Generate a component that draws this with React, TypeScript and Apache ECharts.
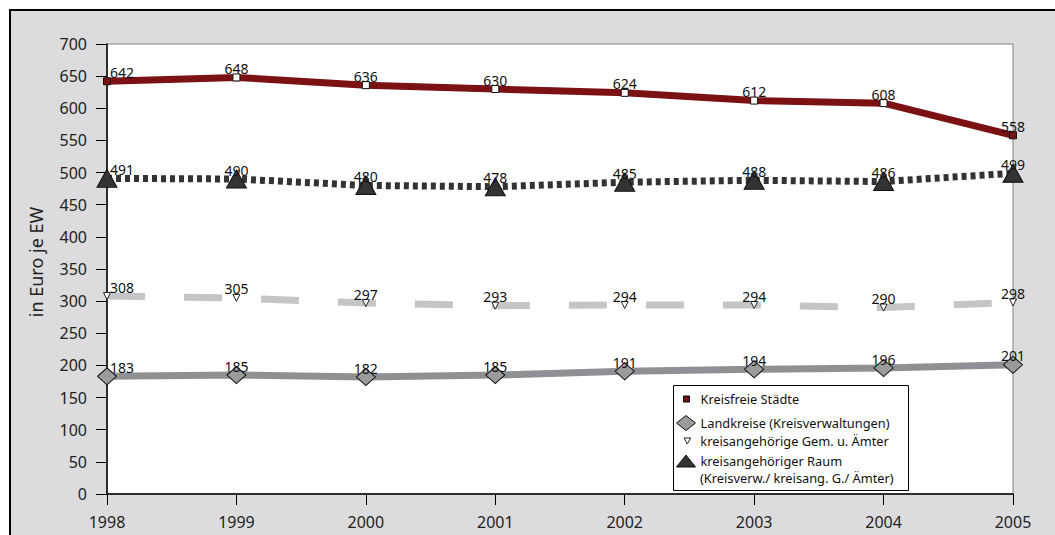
import React, { useEffect, useRef } from "react";
import * as echarts from "echarts";

const years = ["1998", "1999", "2000", "2001", "2002", "2003", "2004", "2005"];
const kreisfreieStaedte = [642, 648, 636, 630, 624, 612, 608, 558];
const landkreise = [183, 185, 182, 185, 191, 194, 196, 201];
const gemAemter = [308, 305, 297, 293, 294, 294, 290, 298];
const kreisRaum = [491, 490, 480, 478, 485, 488, 486, 499];

const NAME_KS = "Kreisfreie Städte";
const NAME_LK = "Landkreise (Kreisverwaltungen)";
const NAME_GA = "kreisangehörige Gem. u. Ämter";
const NAME_KR = "kreisangehöriger Raum\n(Kreisverw./ kreisang. G./ Ämter)";

const FONT = "'Noto Sans', sans-serif";

function toData(vals: number[], fill?: (i: number) => string | undefined) {
  return vals.map((v, i) => {
    const d: any = { value: v };
    if (i === 0) d.label = { offset: [15, -9] };
    const c = fill ? fill(i) : undefined;
    if (c) d.itemStyle = { color: c };
    return d;
  });
}

const labelCfg = {
  show: true,
  position: "inside" as const,
  offset: [0, -9],
  color: "#111",
  fontSize: 14,
  fontFamily: FONT,
};

export default function App() {
  const ref = useRef<HTMLDivElement>(null);
  useEffect(() => {
    if (!ref.current) return;
    const chart = echarts.init(ref.current, null, { renderer: "svg" });
    const legendText = { color: "#111", fontSize: 12.8, fontFamily: FONT, lineHeight: 14 };
    const krLines = NAME_KR.split("\n");
    chart.setOption({
      animation: false,
      backgroundColor: "#ffffff",
      graphic: [
        {
          type: "rect",
          z: -100,
          silent: true,
          shape: { x: 10, y: 10, width: 1200, height: 700 },
          style: { fill: "#dcdcde", stroke: "#000", lineWidth: 2 },
        },
        {
          type: "rect",
          z: 3,
          silent: true,
          shape: { x: 673.5, y: 385.5, width: 235, height: 105 },
          style: { fill: "#fff", stroke: "#000", lineWidth: 1 },
        },
        {
          type: "text",
          z: 5,
          silent: true,
          x: 700,
          y: 478,
          style: {
            text: krLines[1],
            fill: "#111",
            fontSize: 12.8,
            fontFamily: FONT,
            verticalAlign: "middle",
            align: "left",
          },
        },
      ],
      grid: {
        left: 107,
        right: 42,
        top: 44,
        bottom: 41,
        show: true,
        backgroundColor: "#fff",
        borderColor: "#808080",
        borderWidth: 1,
        containLabel: false,
        outerBoundsMode: "none",
      },
      legend: [
        {
          data: [{ name: NAME_KS, icon: "rect" }],
          left: 683,
          top: 392,
          padding: 0,
          itemWidth: 6,
          itemHeight: 6,
          selectedMode: false,
          itemStyle: { color: "#7b1113", borderColor: "#000", borderWidth: 1 },
          textStyle: { ...legendText, padding: [0, 0, 0, 6] },
        },
        {
          data: [{ name: NAME_LK, icon: "diamond" }],
          left: 676,
          top: 415,
          padding: 0,
          itemWidth: 19,
          itemHeight: 15,
          selectedMode: false,
          itemStyle: { color: "#9a9b9d", borderColor: "#111", borderWidth: 1 },
          textStyle: legendText,
        },
        {
          data: [{ name: NAME_GA, icon: "path://M0,0L10,0L5,9Z" }],
          left: 683.5,
          top: 434,
          padding: 0,
          itemWidth: 7,
          itemHeight: 6,
          selectedMode: false,
          itemStyle: { color: "#fff", borderColor: "#222", borderWidth: 1 },
          textStyle: { ...legendText, padding: [0, 0, 0, 4.5] },
        },
        {
          data: [{ name: NAME_KR, icon: "triangle" }],
          left: 676,
          top: 454,
          padding: 0,
          itemWidth: 19,
          itemHeight: 12,
          selectedMode: false,
          formatter: (name: string) => name.split("\n")[0],
          itemStyle: { color: "#333", borderColor: "#111", borderWidth: 1 },
          textStyle: legendText,
        },
      ],
      xAxis: {
        type: "category",
        data: years,
        boundaryGap: false,
        axisLine: { lineStyle: { color: "#000", width: 1.5 } },
        axisTick: { show: true, length: 11, lineStyle: { color: "#000" } },
        axisLabel: { color: "#222", fontSize: 16, fontFamily: FONT, margin: 20 },
        splitLine: { show: false },
      },
      yAxis: {
        type: "value",
        min: 0,
        max: 700,
        interval: 50,
        name: "in Euro je EW",
        nameLocation: "middle",
        nameGap: 62,
        nameRotate: 90,
        nameTextStyle: { color: "#222", fontSize: 18, fontFamily: FONT, padding: [0, 0, 0, 14] },
        axisLine: { show: true, lineStyle: { color: "#000", width: 1.5 } },
        axisTick: { show: true, length: 11, lineStyle: { color: "#000" } },
        axisLabel: { color: "#222", fontSize: 16, fontFamily: FONT, margin: 20 },
        splitLine: { show: false },
      },
      series: [
        {
          name: NAME_LK,
          type: "line",
          data: toData(landkreise),
          symbol: "diamond",
          symbolSize: [19, 17],
          lineStyle: { color: "#8e9093", width: 7 },
          itemStyle: { color: "#9a9b9d", borderColor: "#111", borderWidth: 1 },
          label: labelCfg,
          z: 3,
        },
        {
          name: NAME_GA,
          type: "line",
          data: toData(gemAemter),
          symbol: "triangle",
          symbolRotate: 180,
          symbolSize: [7, 7],
          lineStyle: { color: "#c4c5c7", width: 7, type: [38, 39], cap: "butt" },
          itemStyle: { color: "#fff", borderColor: "#222", borderWidth: 1 },
          label: labelCfg,
          z: 3,
        },
        {
          name: NAME_KR,
          type: "line",
          data: toData(kreisRaum),
          symbol: "triangle",
          symbolSize: [20, 18],
          lineStyle: { color: "#333", width: 7, type: [5, 4], cap: "butt" },
          itemStyle: { color: "#333", borderColor: "#111", borderWidth: 1 },
          label: labelCfg,
          z: 3,
        },
        {
          name: NAME_KS,
          type: "line",
          data: toData(kreisfreieStaedte, (i) =>
            i > 0 && i < kreisfreieStaedte.length - 1 ? "#fff" : undefined
          ),
          symbol: "rect",
          symbolSize: 7,
          lineStyle: { color: "#7b1113", width: 7 },
          itemStyle: { color: "#7b1113", borderColor: "#111", borderWidth: 1 },
          label: labelCfg,
          z: 3,
        },
      ],
    });
    return () => chart.dispose();
  }, []);
  return (
    <div
      ref={ref}
      style={{ position: "absolute", left: 0, top: 0, width: 1055, height: 535 }}
    />
  );
}
